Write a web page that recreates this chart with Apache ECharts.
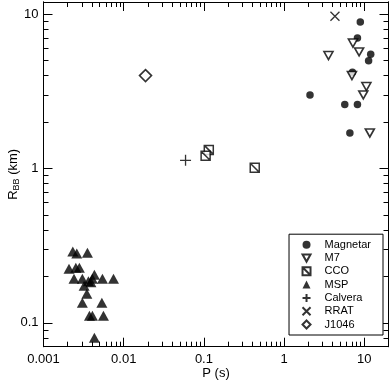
<!DOCTYPE html>
<html>
<head>
<meta charset="utf-8">
<script src="https://cdn.jsdelivr.net/npm/echarts@6.0.0/dist/echarts.min.js"></script>
<style>
  html, body { margin: 0; padding: 0; background: #fff; }
  #chart { width: 390px; height: 382px; }
</style>
</head>
<body>
<div id="chart"></div>
<script>
// [P (s), R_BB (km)]
const magnetar = [[8.9, 8.9], [8.2, 7.0], [12.0, 5.5], [11.3, 5.0], [7.1, 4.2],
  [2.1, 3.0], [5.7, 2.6], [8.2, 2.6], [6.6, 1.7]];
const m7 = [[7.2, 6.5], [8.6, 5.7], [3.57, 5.4], [7.0, 4.0], [10.6, 3.4], [9.7, 3.0], [11.7, 1.7]];
const cco = [[0.115, 1.32], [0.105, 1.21], [0.43, 1.01]];
const msp = [[0.00232, 0.290], [0.0026, 0.281], [0.00353, 0.284], [0.00208, 0.224],
  [0.00253, 0.227], [0.0028, 0.227], [0.0024, 0.193], [0.00305, 0.193], [0.00431, 0.205],
  [0.00407, 0.193], [0.00543, 0.193], [0.00746, 0.193], [0.00363, 0.186], [0.0039, 0.183],
  [0.00321, 0.174], [0.00347, 0.154], [0.00305, 0.135], [0.00534, 0.135], [0.00374, 0.111],
  [0.00407, 0.111], [0.00559, 0.111], [0.00431, 0.080]];
const calvera = [[0.059, 1.13]];
const rrat = [[4.3, 9.7]];
const j1046 = [[0.0187, 4.0]];

const xMajor = [0.001, 0.01, 0.1, 1, 10];
const yMajor = [0.1, 1, 10];
const xRange = [0.001, 20];
const yRange = [0.07, 12];

// minor ticks 2..9 of each decade
function minors(lo, hi) {
  const out = [];
  for (let d = lo; d < hi; d *= 10) {
    for (let k = 2; k <= 9; k++) {
      const v = +(k * d).toPrecision(6);
      if (v <= hi) out.push(v);
    }
  }
  return out;
}
const xMinor = minors(0.001, 20);
const yMinor = minors(0.01, 12).filter(v => v >= 0.07);

const FONT = 'Liberation Sans, Arial, Helvetica, sans-serif';
const black = '#000';

function axis(kind, position, range, ticks, len, labels) {
  const a = {
    type: 'log',
    logBase: 10,
    position: position,
    min: range[0],
    max: range[1],
    axisLine: { show: true, lineStyle: { color: black, width: 1 } },
    axisTick: { show: true, inside: true, length: len, customValues: ticks, lineStyle: { color: black, width: 1 } },
    splitLine: { show: false },
    minorTick: { show: false },
    axisLabel: { show: false }
  };
  if (labels) {
    a.axisLabel = {
      show: true,
      customValues: labels,
      color: black,
      fontFamily: FONT,
      fontSize: 13,
      margin: kind === 'x' ? 6 : 5,
      formatter: v => String(+(+v).toPrecision(6))
    };
  }
  return a;
}

const xAxes = [
  axis('x', 'bottom', xRange, xMajor, 9, xMajor),
  axis('x', 'bottom', xRange, xMinor, 5),
  axis('x', 'top', xRange, xMajor, 9),
  axis('x', 'top', xRange, xMinor, 5)
];
Object.assign(xAxes[0], {
  name: 'P (s)',
  nameLocation: 'middle',
  nameGap: 20,
  nameMoveOverlap: false,
  nameTextStyle: { color: black, fontFamily: FONT, fontSize: 13 }
});

const yAxes = [
  axis('y', 'left', yRange, yMajor, 9, yMajor),
  axis('y', 'left', yRange, yMinor, 5),
  axis('y', 'right', yRange, yMajor, 9),
  axis('y', 'right', yRange, yMinor, 5)
];
Object.assign(yAxes[0], {
  name: '{r|R}{s|BB}{r| (km)}',
  nameLocation: 'middle',
  nameGap: 22,
  nameMoveOverlap: false,
  nameTextStyle: {
    color: black, fontFamily: FONT,
    rich: {
      r: { fontSize: 13, color: black, fontFamily: FONT },
      s: { fontSize: 9, color: black, fontFamily: FONT, padding: [8, 0, 0, 0] }
    }
  }
});

const open = { color: '#fff', borderColor: black, borderWidth: 1.6 };
const stroke = { color: 'none', borderColor: black, borderWidth: 1.3 };

const chart = echarts.init(document.getElementById('chart'), null, { renderer: 'canvas' });
chart.setOption({
  animation: false,
  backgroundColor: '#fff',
  grid: { left: 43.5, right: 1.5, top: 2, bottom: 35.3, containLabel: false, outerBoundsMode: 'none' },
  xAxis: xAxes,
  yAxis: yAxes,
  legend: {
    orient: 'vertical',
    right: 7,
    bottom: 47,
    backgroundColor: '#fff',
    borderColor: black,
    borderWidth: 1,
    borderRadius: 0,
    padding: [4, 12, 4, 11],
    itemWidth: 8,
    itemHeight: 8,
    itemGap: 0.3,
    textStyle: { color: black, fontFamily: FONT, fontSize: 11, lineHeight: 13, padding: [0, 0, 0, 9] },
    data: ['Magnetar', 'M7', 'CCO', 'MSP', 'Calvera', 'RRAT', 'J1046']
  },
  series: [
    { name: 'Magnetar', type: 'scatter', data: magnetar, symbol: 'circle', symbolSize: 7.5,
      itemStyle: { color: black } },
    { name: 'M7', type: 'scatter', data: m7, symbol: 'path://M0,0L10,0L5,9Z', symbolSize: [9, 8],
      itemStyle: open },
    { name: 'CCO', type: 'scatter', data: cco, symbol: 'path://M0,0L10,0L10,10L0,10ZM0,0L10,10', symbolSize: 9,
      itemStyle: { color: '#fff', borderColor: black, borderWidth: 1.5 } },
    { name: 'MSP', type: 'scatter', data: msp, symbol: 'triangle', symbolSize: [11, 10],
      itemStyle: { color: black } },
    { name: 'Calvera', type: 'scatter', data: calvera, symbol: 'path://M5,0L5,10M0,5L10,5', symbolSize: 11,
      itemStyle: stroke },
    { name: 'RRAT', type: 'scatter', data: rrat, symbol: 'path://M0,0L10,10M10,0L0,10', symbolSize: 9,
      itemStyle: stroke },
    { name: 'J1046', type: 'scatter', data: j1046, symbol: 'diamond', symbolSize: 12,
      itemStyle: open }
  ]
});
</script>
</body>
</html>
